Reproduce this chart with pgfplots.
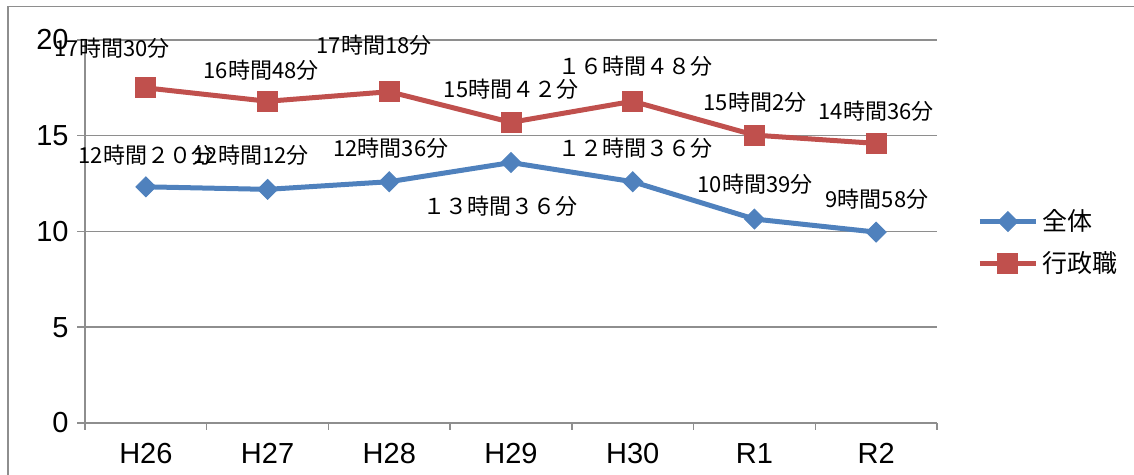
\documentclass[border=0pt]{standalone}
\usepackage{pgfplots}
\pgfplotsset{compat=1.18}
\usepackage{fontspec}
\setmainfont{Noto Sans CJK JP}
\newfontfamily\tickfont{Liberation Sans}
\definecolor{ser1}{HTML}{4F81BD}
\definecolor{ser2}{HTML}{C0504D}
\definecolor{gridc}{HTML}{8E8E8E}
\begin{document}
\begin{tikzpicture}
\path[use as bounding box] (0,0) rectangle (567pt,237.5pt);
\draw[gridc, line width=0.75pt] (4pt,0pt) -- (4pt,234.25pt) -- (567pt,234.25pt);
\begin{axis}[
  at={(42.5pt,26pt)}, anchor=south west,
  scale only axis, width=426pt, height=191.5pt,
  xmin=0, xmax=7, ymin=0, ymax=20,
  clip=false,
  axis x line*=bottom, axis y line*=left,
  axis line style={gridc, line width=0.75pt},
  xtick={0.5,1.5,...,6.5},
  xticklabels={H26,H27,H28,H29,H30,R1,R2},
  minor xtick={0,1,...,7},
  ytick={0,5,...,20},
  tick align=outside,
  major tick length=4pt,
  minor tick length=3.5pt,
  major x tick style={draw=none},
  minor x tick style={gridc, line width=0.75pt},
  y tick style={gridc, line width=0.75pt},
  ymajorgrids,
  major grid style={gridc, line width=0.75pt},
  /pgf/number format/assume math mode=true,
  tick label style={font=\tickfont\fontsize{14.5}{16}\selectfont},
  xticklabel style={anchor=north, inner sep=0pt, yshift=-6pt},
  yticklabel style={anchor=east, inner sep=0pt, xshift=-4pt},
  legend style={at={(1.047,0.471)}, anchor=west, draw=none, fill=none,
     font=\fontsize{12.5}{15}\selectfont, row sep=5pt, inner sep=0pt},
  legend cell align=left,
  legend image code/.code={\draw[mark repeat=2,mark phase=2] plot coordinates {(0pt,0pt) (14pt,0pt) (28pt,0pt)};},
]
\addplot[ser1, line width=2.5pt, mark=square*, mark size=3.5pt, mark options={rotate=45, line width=0.5pt}]
  coordinates {(0.5,12.333) (1.5,12.2) (2.5,12.6) (3.5,13.6) (4.5,12.6) (5.5,10.65) (6.5,9.967)};
\addlegendentry{全体}
\addplot[ser2, line width=2.5pt, mark=square*, mark size=5pt, mark options={line width=0.5pt}]
  coordinates {(0.5,17.5) (1.5,16.8) (2.5,17.3) (3.5,15.7) (4.5,16.8) (5.5,15.033) (6.5,14.6)};
\addlegendentry{行政職}
\begin{scope}[every node/.style={font=\fontsize{11}{13}\selectfont, inner sep=0pt, text=black}]
\node at (axis cs:0.222,19.58) {17時間30分};
\node at (axis cs:1.446,18.43) {16時間48分};
\node at (axis cs:2.375,19.74) {17時間18分};
\node at (axis cs:3.5,17.44) {15時間４２分};
\node at (axis cs:4.519,18.64) {１６時間４８分};
\node at (axis cs:5.505,16.76) {15時間2分};
\node at (axis cs:6.5,16.29) {14時間36分};
\node at (axis cs:0.5,13.99) {12時間２０分};
\node at (axis cs:1.365,13.99) {12時間12分};
\node at (axis cs:2.514,14.36) {12時間36分};
\node at (axis cs:3.41,11.33) {１３時間３６分};
\node at (axis cs:4.519,14.36) {１２時間３６分};
\node at (axis cs:5.505,12.48) {10時間39分};
\node at (axis cs:6.507,11.7) {9時間58分};
\end{scope}
\end{axis}
\end{tikzpicture}
\end{document}
